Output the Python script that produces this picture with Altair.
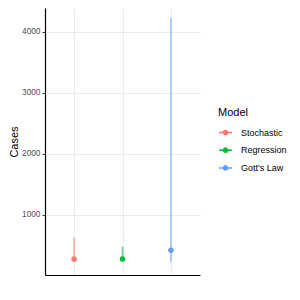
import altair as alt
import pandas as pd

models = ["Stochastic", "Regression", "Gott's Law"]
estimates = [274, 272, 415]
lower = [210, 245, 218]
upper = [625, 475, 4230]
colors = ["#F8766D", "#00BA38", "#619CFF"]
y_ticks = [1000, 2000, 3000, 4000]

df = pd.DataFrame({"Model": models, "est": estimates, "lo": lower, "hi": upper})

FONT = "Liberation Sans"

x = alt.X(
    "Model:N",
    sort=models,
    scale=alt.Scale(type="point", padding=0.6),
    axis=alt.Axis(title=None, labels=False, ticks=False, grid=True,
                  gridColor="#EBEBEB", gridWidth=1,
                  domainColor="#000000", domainWidth=1.2),
)
y_scale = alt.Scale(domain=[10, 4393], nice=False, zero=False)
y_axis = alt.Axis(
    title="Cases", values=y_ticks, format="d", grid=True, gridColor="#EBEBEB", gridWidth=1,
    domainColor="#000000", domainWidth=1.2, tickColor="#333333", tickSize=3,
    labelColor="#4D4D4D", labelFontSize=8.3, labelFont=FONT, labelPadding=2,
    titleFont=FONT, titleFontSize=11, titleFontWeight="normal", titleColor="#000000",
    titleAngle=270, titleX=-28, titleY=133.5, titleAlign="center", titleBaseline="alphabetic",
)
cscale = alt.Scale(domain=models, range=colors)
sym = "M-1,0H1M0.32,0A0.32,0.32,0,1,1,-0.32,0A0.32,0.32,0,1,1,0.32,0Z"
legend = alt.Legend(
    title="Model", orient="none", legendX=173, legendY=99,
    symbolType=sym, symbolSize=169, symbolStrokeWidth=1.5, symbolOpacity=1,
    labelFont=FONT, labelFontSize=9, labelColor="#000000", labelOffset=8,
    titleFont=FONT, titleFontSize=11, titleFontWeight="normal", titleColor="#000000",
    titlePadding=7, rowPadding=4.7, padding=0,
)

legend_layer = alt.Chart(df).mark_point(
    filled=True, shape=sym, strokeWidth=1.5, opacity=0
).encode(
    x=x,
    y=alt.Y("est:Q", scale=y_scale, axis=y_axis),
    fill=alt.Fill("Model:N", scale=cscale, sort=models, legend=legend),
    stroke=alt.Stroke("Model:N", scale=cscale, sort=models, legend=legend),
)
rules = alt.Chart(df).mark_rule(strokeWidth=1.6, opacity=0.6).encode(
    x=x,
    y=alt.Y("lo:Q", scale=y_scale, axis=y_axis),
    y2="hi:Q",
    stroke=alt.Stroke("Model:N", scale=cscale, sort=models, legend=legend),
)
points = alt.Chart(df).mark_point(filled=True, size=30, opacity=1).encode(
    x=x,
    y=alt.Y("est:Q", scale=y_scale, axis=y_axis),
    fill=alt.Fill("Model:N", scale=cscale, sort=models, legend=legend),
)

chart = alt.layer(legend_layer, rules, points).properties(
    width=155, height=267,
    background="white",
    autosize=alt.AutoSizeParams(type="none"),
    padding={"left": 37, "top": 0, "right": 92, "bottom": 17},
).configure_view(stroke=None)

chart.save("out.html", embed_options={"renderer": "svg", "actions": False})
